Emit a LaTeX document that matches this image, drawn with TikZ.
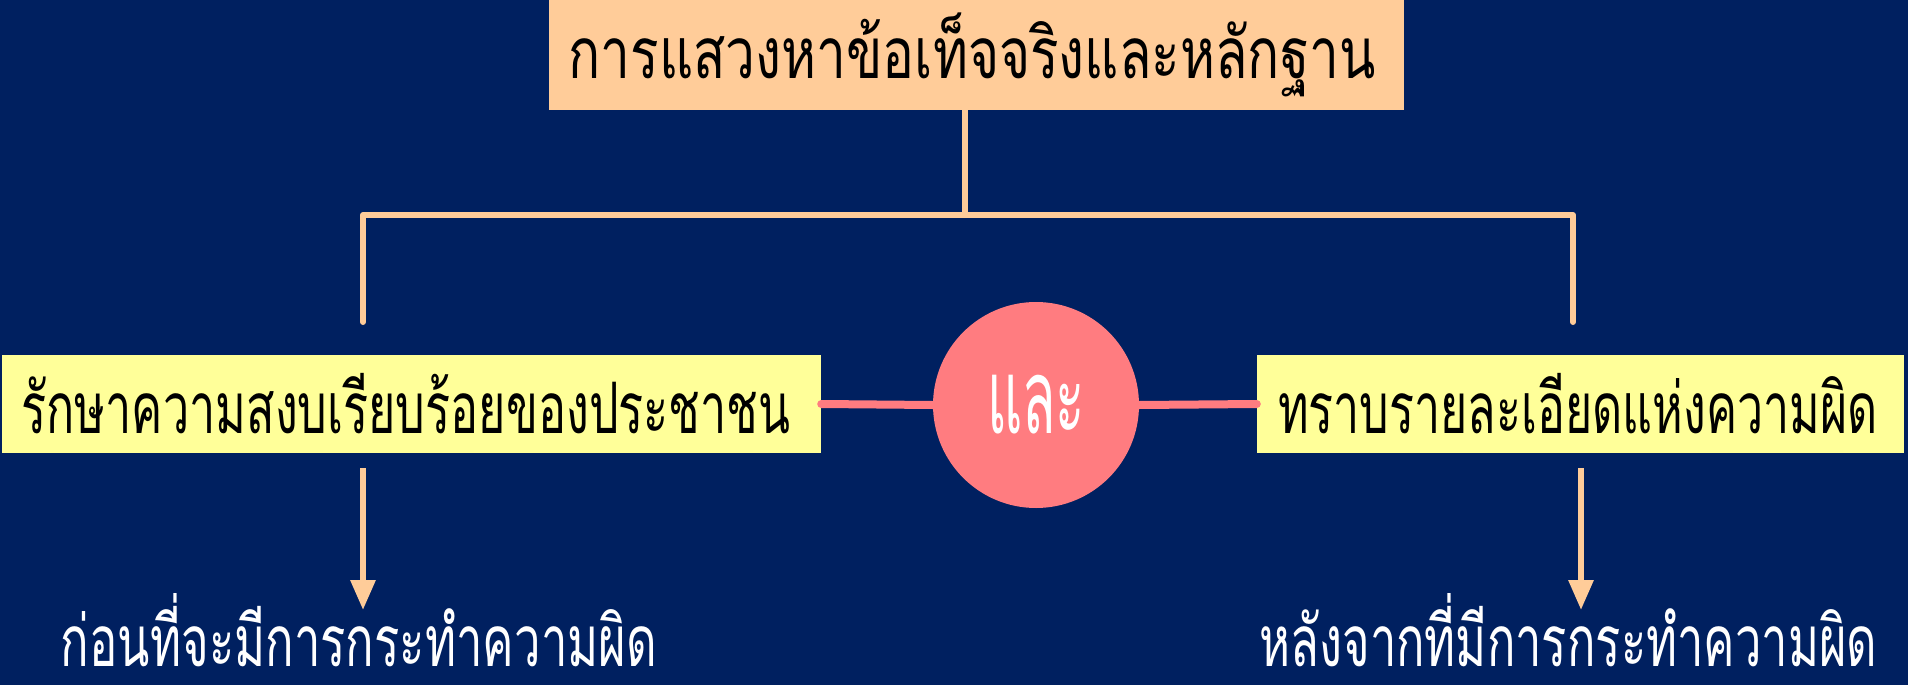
\documentclass[tikz,border=0pt]{standalone}
\usepackage{fontspec}
\usepackage{graphicx}
\newfontfamily\thaifont[Script=Thai]{Loma}
\usetikzlibrary{arrows.meta}
\newcommand{\hfitto}[2]{\resizebox{#1}{\height}{#2}}
\definecolor{navy}{RGB}{0,32,96}
\definecolor{peach}{RGB}{255,204,153}
\definecolor{paleyellow}{RGB}{255,255,153}
\definecolor{salmon}{RGB}{255,124,128}
\tikzset{
  boxbase/.style={rectangle, inner sep=0pt, font=\thaifont\fontsize{71}{71}\selectfont, text=black},
  topbox/.style={boxbase, fill=peach, minimum width=855pt, minimum height=110pt},
  sidebox/.style={boxbase, fill=paleyellow, minimum height=98pt},
  andcircle/.style={circle, fill=salmon, minimum size=206pt, inner sep=0pt, text=white, font=\thaifont\fontsize{104}{104}\selectfont},
  result/.style={inner sep=0pt, text=white, font=\thaifont\fontsize{71}{71}\selectfont},
  treeline/.style={draw=peach, line width=6pt, line cap=round, line join=round},
  linkline/.style={draw=salmon, line width=8pt, line cap=round},
  downarrow/.style={draw=peach, line width=6pt, -{Triangle[width=24pt,length=30pt]}}
}
\begin{document}
\begin{tikzpicture}[x=1pt,y=-1pt]
\fill[navy] (0,0) rectangle (1908,685);
\useasboundingbox (0,0) rectangle (1908,685);
\node[topbox] (top) at (976.5,55) {};
\node[boxbase] (toptext) at (972,55) {\hfitto{807pt}{การแสวงหาข้อเท็จจริงและหลักฐาน}};
\node[sidebox, minimum width=819pt] (left) at (411.5,404) {};
\node[boxbase] (lefttext) at (406,404) {\hfitto{769pt}{รักษาความสงบเรียบร้อยของประชาชน}};
\node[sidebox, minimum width=647pt] (right) at (1580.5,404) {};
\node[boxbase] (righttext) at (1578,404) {\hfitto{600pt}{ทราบรายละเอียดแห่งความผิด}};
\node[andcircle] (and) at (1036,405) {\hfitto{98pt}{และ}};
\node[result] (before) at (359,630) {\hfitto{596pt}{ก่อนที่จะมีการกระทำความผิด}};
\node[result] (after) at (1568.5,630) {\hfitto{618pt}{หลังจากที่มีการกระทำความผิด}};
\coordinate (junction) at (965,215);
\coordinate (lcorner) at (363,215);
\coordinate (rcorner) at (1573,215);
\coordinate (lend) at (363,322);
\coordinate (rend) at (1573,322);
\draw[treeline] (top.south -| junction) -- (junction);
\draw[treeline] (lend) -- (lcorner) -- (rcorner) -- (rend);
\draw[linkline] (left.east) -- (and.west);
\draw[linkline] (and.east) -- (right.west);
\coordinate (lastart) at (363,468);
\coordinate (rastart) at (1581,468);
\draw[downarrow] (lastart) -- (lastart |- 0,610);
\draw[downarrow] (rastart) -- (rastart |- 0,610);
\end{tikzpicture}
\end{document}
